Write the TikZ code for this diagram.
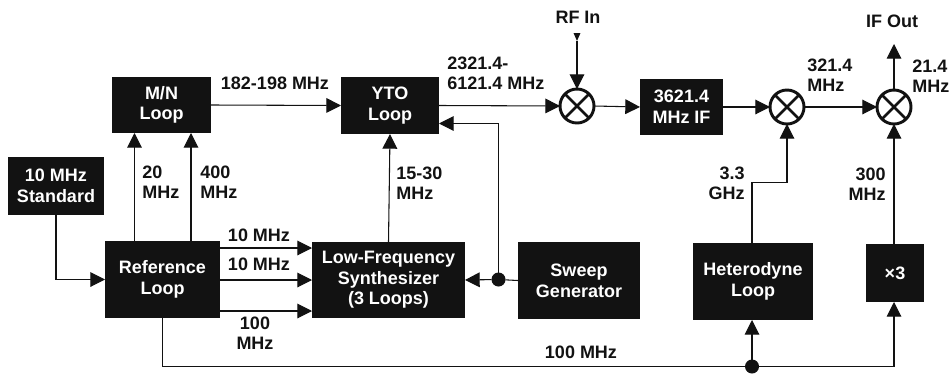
\documentclass[tikz,border=0pt]{standalone}
\usepackage{fontspec}
\setmainfont{Liberation Sans}
\usepackage{xcolor}
\usetikzlibrary{arrows.meta}
\definecolor{inkblack}{rgb}{0.07,0.07,0.07}
\tikzset{
  blockbox/.style={fill=inkblack,text=white,inner sep=0pt,outer sep=0pt,align=center,font=\fontsize{13.5}{15.5}\selectfont\bfseries},
  mixer/.style={circle,draw=inkblack,line width=2.2pt,inner sep=0pt,outer sep=0pt,minimum size=25.5pt,
    path picture={\draw [inkblack,line width=2pt] (path picture bounding box.north west) -- (path picture bounding box.south east) (path picture bounding box.south west) -- (path picture bounding box.north east);}},
  tapdot/.style={circle,fill=inkblack,inner sep=0pt,outer sep=0pt,minimum size=10.5pt},
  wire/.style={draw=inkblack,line width=0.8pt},
  sig/.style={wire,-{Triangle[length=11pt,width=11pt]}},
  smallsig/.style={wire,-{Triangle[length=6pt,width=5pt]}},
  freqlabel/.style={inner sep=0pt,text=inkblack,font=\fontsize{13.5}{15}\selectfont\bfseries}
}
\begin{document}
\begin{tikzpicture}[x=0.75pt,y=0.75pt,yscale=-1,xscale=1]
\useasboundingbox (0,0) rectangle (950,375);

% Blocks
\node (mnloop) [blockbox,minimum width=74.25pt,minimum height=42pt] at (161.5,105) {M/N\\Loop};
\node (ytoloop) [blockbox,minimum width=73.5pt,minimum height=42.75pt] at (390,105.5) {YTO\\Loop};
\node (standard) [blockbox,minimum width=72pt,minimum height=43.5pt] at (56,186) {10 MHz\\Standard};
\node (refloop) [blockbox,minimum width=86.25pt,minimum height=57.75pt] at (162.5,279.5) {Reference\\Loop};
\node (lfsynth) [blockbox,minimum width=114.75pt,minimum height=57pt] at (388.5,280) {Low-Frequency\\Synthesizer\\(3 Loops)};
\node (sweepgen) [blockbox,minimum width=91.5pt,minimum height=57.75pt] at (579,280.5) {Sweep\\Generator};
\node (hetloop) [blockbox,minimum width=90pt,minimum height=57.75pt] at (753,281.5) {Heterodyne\\Loop};
\node (times3) [blockbox,minimum width=43.5pt,minimum height=43.5pt] at (895,273) {×3};
\node (ifbox) [blockbox,minimum width=62.25pt,minimum height=42pt] at (681.5,107) {3621.4\\MHz IF};

% Mixers
\node (mixa) [mixer] at (577,106) {};
\node (mixb) [mixer] at (787,107) {};
\node (mixc) [mixer] at (894,107) {};

% Tap points
\node (sweeptap) [tapdot] at (498.5,279.5) {};
\node (reftap) [tapdot] at (752,366.5) {};

% Free ends
\coordinate (rfin) at (577,33);
\coordinate (rfmid) at (577,41);
\coordinate (ifout) at (894,44);
\coordinate (mnina) at (134.5,133);
\coordinate (mninb) at (191,133);
\coordinate (lfina) at (312,248);
\coordinate (lfinc) at (312,311);
\coordinate (ytoback) at (439,123.5);
\coordinate (hetbend) at (752,182.5);

% Connectors
\draw [sig] (mnina |- refloop.north) -- (mnina);
\draw [sig] (mninb |- refloop.north) -- (mninb);
\draw [sig] (mnloop.east) -- (ytoloop.west);
\draw [sig] (standard.south) |- (refloop.west);
\draw [sig] (refloop.east |- lfina) -- (lfina);
\draw [sig] (refloop.east |- lfsynth.west) -- (lfsynth.west);
\draw [sig] (refloop.east |- lfinc) -- (lfinc);
\draw [sig] (lfsynth.north) -- (ytoloop.south);
\draw [wire] (sweepgen.west) -- (sweeptap);
\draw [sig] (sweeptap) -- (lfsynth.east);
\draw [sig] (sweeptap) |- (ytoback);
\draw [sig] (ytoloop.east) -- (mixa.west);
\draw [smallsig] (rfin) -- (rfmid);
\draw [sig] (rfmid) -- (mixa.north);
\draw [sig] (mixa.east) -- (ifbox.west);
\draw [sig] (ifbox.east) -- (mixb.west);
\draw [sig] (mixb.east) -- (mixc.west);
\draw [sig] (mixc.north) -- (ifout);
\draw [sig] (hetloop.north -| hetbend) -- (hetbend) -| (mixb.south);
\draw [sig] (times3.north -| mixc) -- (mixc.south);
\draw [wire] (refloop.south) |- (reftap);
\draw [sig] (reftap) -- (hetloop.south -| reftap);
\draw [sig] (reftap) -| (times3.south -| mixc);

% Text Node
\node (lblmn) [freqlabel] at (275,83) {182-198 MHz};
\node (lblyto) [freqlabel,anchor=west,align=left] at (447,73) {2321.4-\\6121.4 MHz};
\node (lbltwenty) [freqlabel,anchor=west,align=left] at (142,182) {20\\MHz};
\node (lblfourh) [freqlabel,anchor=west,align=left] at (200,182) {400\\MHz};
\node (lbllow) [freqlabel,anchor=west,align=left] at (396,183) {15-30\\MHz};
\node (lbltena) [freqlabel] at (259,235) {10 MHz};
\node (lbltenb) [freqlabel] at (259,264) {10 MHz};
\node (lblhund) [freqlabel,align=center] at (255,333) {100\\MHz};
\node (lblrf) [freqlabel] at (578,17) {RF In};
\node (lblif) [freqlabel] at (892,21) {IF Out};
\node (lblmixb) [freqlabel,anchor=west,align=left] at (807,75) {321.4\\MHz};
\node (lblmixc) [freqlabel,anchor=west,align=left] at (912,76) {21.4\\MHz};
\node (lblhet) [freqlabel,anchor=east,align=right] at (745,183) {3.3\\GHz};
\node (lblthree) [freqlabel,anchor=east,align=right] at (886,184) {300\\MHz};
\node (lblref) [freqlabel] at (581,352) {100 MHz};

\end{tikzpicture}
\end{document}
